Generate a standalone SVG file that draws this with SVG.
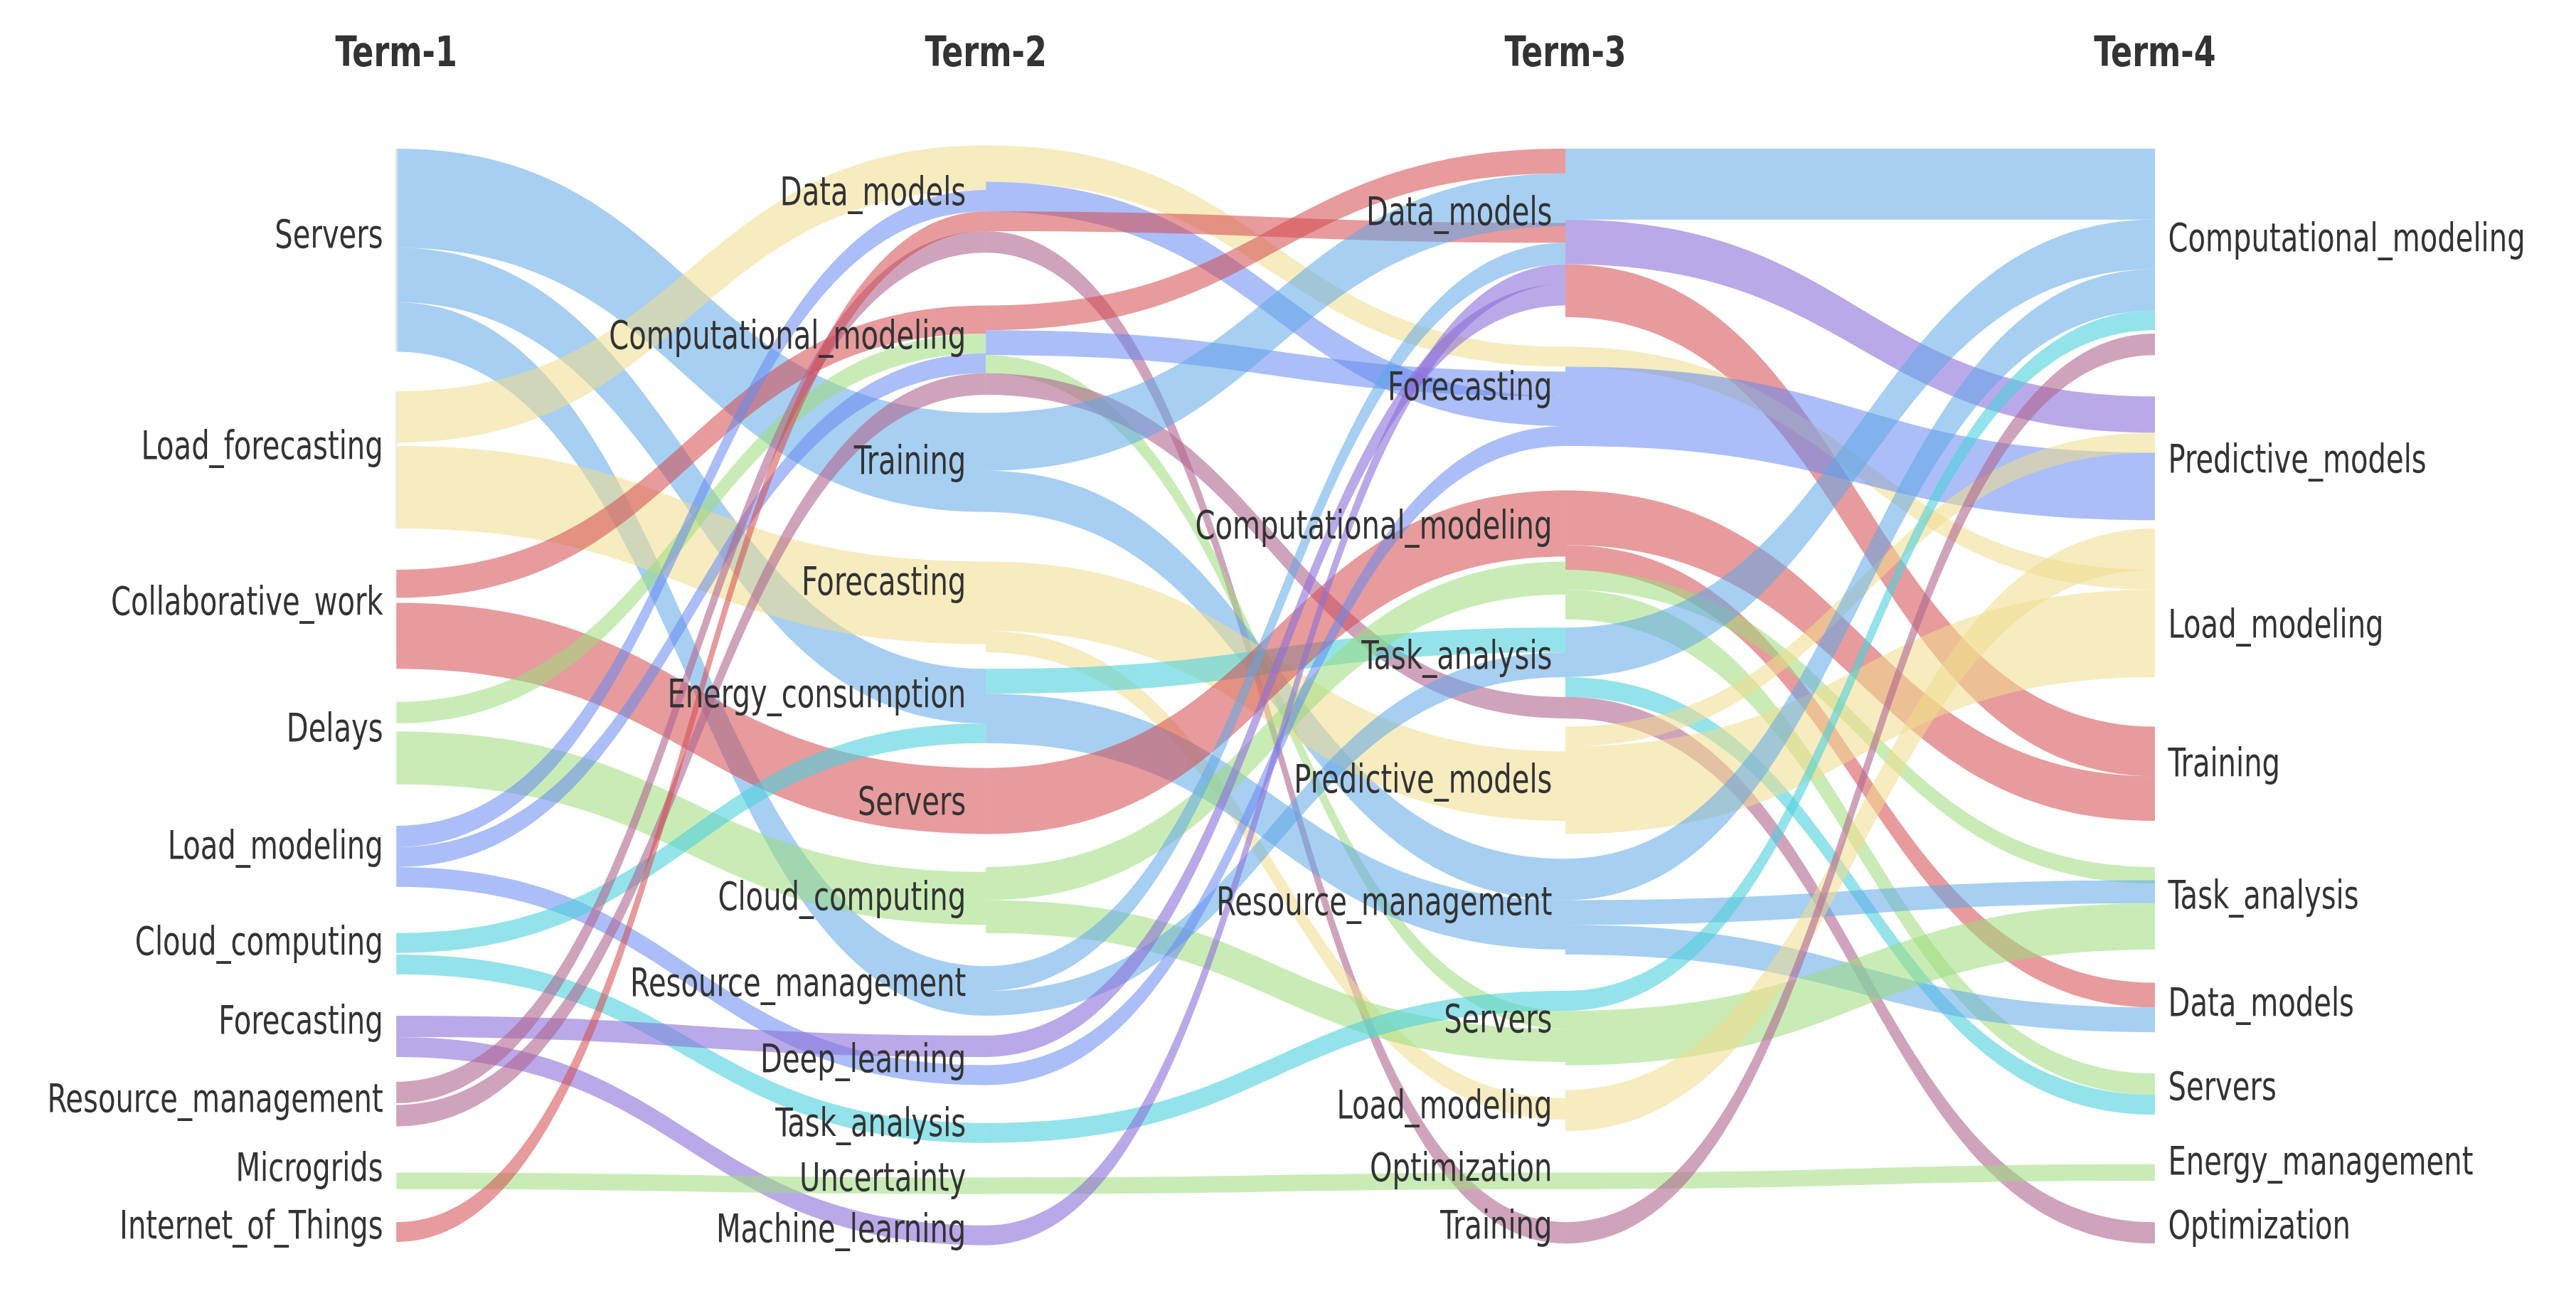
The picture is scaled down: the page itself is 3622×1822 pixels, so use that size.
<svg xmlns="http://www.w3.org/2000/svg" width="3622" height="1822" viewBox="0 0 3622 1822">
<style>
.b{fill:#5fa8e8;opacity:.55}.y{fill:#f0dc8c;opacity:.55}.r{fill:#d4494d;opacity:.55}.g{fill:#9ddc7c;opacity:.55}.v{fill:#6688f0;opacity:.55}.c{fill:#4fd0dc;opacity:.6}.p{fill:#8c70d8;opacity:.6}.m{fill:#b0668f;opacity:.6}
text{font-family:"DejaVu Sans Condensed","DejaVu Sans",sans-serif;font-size:24px;fill:#333}
.e{text-anchor:end}.t{font-weight:bold;text-anchor:middle;font-size:25px}
.n{fill:#e8e8e8;opacity:.6}
</style>
<rect width="3622" height="1822" fill="#fff"/>
<g transform="scale(2.3218)">
<g id="connectors">
<path class="b" d="M240,90C418,90 418,250 597,250L597,310C418,310 418,150 240,150Z"/>
<path class="b" d="M240,150C418,150 418,405 597,405L597,438C418,438 418,183 240,183Z"/>
<path class="b" d="M240,183C418,183 418,585 597,585L597,615C418,615 418,213 240,213Z"/>
<path class="y" d="M240,237C418,237 418,88 597,88L597,115C418,115 418,268 240,268Z"/>
<path class="y" d="M240,270C418,270 418,340 597,340L597,390C418,390 418,320 240,320Z"/>
<path class="r" d="M240,345C418,345 418,185 597,185L597,202C418,202 418,362 240,362Z"/>
<path class="r" d="M240,365C418,365 418,465 597,465L597,505C418,505 418,405 240,405Z"/>
<path class="g" d="M240,425C418,425 418,202 597,202L597,214C418,214 418,438 240,438Z"/>
<path class="g" d="M240,443C418,443 418,528 597,528L597,560C418,560 418,475 240,475Z"/>
<path class="v" d="M240,500C418,500 418,115 597,115L597,128C418,128 418,513 240,513Z"/>
<path class="v" d="M240,513C418,513 418,214 597,214L597,226C418,226 418,525 240,525Z"/>
<path class="v" d="M240,525C418,525 418,645 597,645L597,657C418,657 418,537 240,537Z"/>
<path class="c" d="M240,565C418,565 418,438 597,438L597,450C418,450 418,577 240,577Z"/>
<path class="c" d="M240,578C418,578 418,680 597,680L597,692C418,692 418,590 240,590Z"/>
<path class="p" d="M240,615C418,615 418,627 597,627L597,640C418,640 418,628 240,628Z"/>
<path class="p" d="M240,628C418,628 418,742 597,742L597,754C418,754 418,640 240,640Z"/>
<path class="m" d="M240,655C418,655 418,140 597,140L597,153C418,153 418,668 240,668Z"/>
<path class="m" d="M240,669C418,669 418,226 597,226L597,239C418,239 418,682 240,682Z"/>
<path class="g" d="M240,710C418,710 418,713 597,713L597,723C418,723 418,720 240,720Z"/>
<path class="r" d="M240,740C418,740 418,128 597,128L597,140C418,140 418,752 240,752Z"/>

<path class="y" d="M597,88C772,88 772,210 948,210L948,222C772,222 772,110 597,110Z"/>
<path class="v" d="M597,110C772,110 772,240 948,240L948,258C772,258 772,128 597,128Z"/>
<path class="r" d="M597,128C772,128 772,135 948,135L948,147C772,147 772,140 597,140Z"/>
<path class="m" d="M597,140C772,140 772,740 948,740L948,753C772,753 772,153 597,153Z"/>
<path class="r" d="M597,185C772,185 772,90 948,90L948,105C772,105 772,200 597,200Z"/>
<path class="v" d="M597,200C772,200 772,225 948,225L948,240C772,240 772,215 597,215Z"/>
<path class="g" d="M597,215C772,215 772,612 948,612L948,623C772,623 772,226 597,226Z"/>
<path class="m" d="M597,226C772,226 772,422 948,422L948,435C772,435 772,239 597,239Z"/>
<path class="b" d="M597,250C772,250 772,105 948,105L948,137C772,137 772,285 597,285Z"/>
<path class="b" d="M597,285C772,285 772,520 948,520L948,545C772,545 772,310 597,310Z"/>
<path class="y" d="M597,340C772,340 772,455 948,455L948,497C772,497 772,382 597,382Z"/>
<path class="y" d="M597,382C772,382 772,665 948,665L948,678C772,678 772,395 597,395Z"/>
<path class="c" d="M597,405C772,405 772,380 948,380L948,395C772,395 772,420 597,420Z"/>
<path class="b" d="M597,420C772,420 772,545 948,545L948,575C772,575 772,450 597,450Z"/>
<path class="r" d="M597,465C772,465 772,297 948,297L948,337C772,337 772,505 597,505Z"/>
<path class="g" d="M597,525C772,525 772,340 948,340L948,360C772,360 772,545 597,545Z"/>
<path class="g" d="M597,545C772,545 772,623 948,623L948,643C772,643 772,565 597,565Z"/>
<path class="b" d="M597,585C772,585 772,147 948,147L948,160C772,160 772,600 597,600Z"/>
<path class="b" d="M597,600C772,600 772,395 948,395L948,410C772,410 772,615 597,615Z"/>
<path class="p" d="M597,627C772,627 772,172 948,172L948,185C772,185 772,640 597,640Z"/>
<path class="v" d="M597,645C772,645 772,258 948,258L948,270C772,270 772,657 597,657Z"/>
<path class="c" d="M597,680C772,680 772,600 948,600L948,612C772,612 772,692 597,692Z"/>
<path class="g" d="M597,713C772,713 772,710 948,710L948,720C772,720 772,723 597,723Z"/>
<path class="p" d="M597,742C772,742 772,160 948,160L948,172C772,172 772,754 597,754Z"/>

<path class="b" d="M948,90C1126,90 1126,90 1305,90L1305,133C1126,133 1126,133 948,133Z"/>
<path class="p" d="M948,133C1126,133 1126,240 1305,240L1305,262C1126,262 1126,160 948,160Z"/>
<path class="r" d="M948,160C1126,160 1126,440 1305,440L1305,470C1126,470 1126,192 948,192Z"/>
<path class="y" d="M948,210C1126,210 1126,345 1305,345L1305,357C1126,357 1126,222 948,222Z"/>
<path class="v" d="M948,222C1126,222 1126,274 1305,274L1305,315C1126,315 1126,270 948,270Z"/>
<path class="r" d="M948,297C1126,297 1126,470 1305,470L1305,497C1126,497 1126,330 948,330Z"/>
<path class="r" d="M948,330C1126,330 1126,595 1305,595L1305,610C1126,610 1126,345 948,345Z"/>
<path class="g" d="M948,345C1126,345 1126,525 1305,525L1305,535C1126,535 1126,357 948,357Z"/>
<path class="g" d="M948,357C1126,357 1126,650 1305,650L1305,663C1126,663 1126,375 948,375Z"/>
<path class="b" d="M948,380C1126,380 1126,133 1305,133L1305,163C1126,163 1126,410 948,410Z"/>
<path class="c" d="M948,410C1126,410 1126,663 1305,663L1305,675C1126,675 1126,422 948,422Z"/>
<path class="m" d="M948,422C1126,422 1126,740 1305,740L1305,753C1126,753 1126,435 948,435Z"/>
<path class="y" d="M948,440C1126,440 1126,262 1305,262L1305,274C1126,274 1126,452 948,452Z"/>
<path class="y" d="M948,452C1126,452 1126,357 1305,357L1305,410C1126,410 1126,505 948,505Z"/>
<path class="b" d="M948,520C1126,520 1126,163 1305,163L1305,188C1126,188 1126,545 948,545Z"/>
<path class="b" d="M948,545C1126,545 1126,533 1305,533L1305,547C1126,547 1126,560 948,560Z"/>
<path class="b" d="M948,560C1126,560 1126,610 1305,610L1305,625C1126,625 1126,578 948,578Z"/>
<path class="c" d="M948,600C1126,600 1126,188 1305,188L1305,200C1126,200 1126,612 948,612Z"/>
<path class="g" d="M948,612C1126,612 1126,547 1305,547L1305,575C1126,575 1126,645 948,645Z"/>
<path class="y" d="M948,660C1126,660 1126,320 1305,320L1305,345C1126,345 1126,685 948,685Z"/>
<path class="g" d="M948,710C1126,710 1126,705 1305,705L1305,715C1126,715 1126,720 948,720Z"/>
<path class="m" d="M948,740C1126,740 1126,202 1305,202L1305,215C1126,215 1126,753 948,753Z"/>
</g>

<text class="t" transform="translate(240,40) scale(.85,1)">Term-1</text>
<text class="t" transform="translate(597,40) scale(.85,1)">Term-2</text>
<text class="t" transform="translate(948,40) scale(.85,1)">Term-3</text>
<text class="t" transform="translate(1305,40) scale(.85,1)">Term-4</text>

<g id="t1-servers"><rect class="n" x="239" y="90" width="2" height="123"/><text class="e" transform="translate(232,150) scale(.8,1)">Servers</text></g>
<g id="t1-load-forecasting"><rect class="n" x="239" y="237" width="2" height="83"/><text class="e" transform="translate(232,278) scale(.8,1)">Load_forecasting</text></g>
<g id="t1-collaborative-work"><text class="e" transform="translate(232,372) scale(.8,1)">Collaborative_work</text></g>
<g id="t1-delays"><text class="e" transform="translate(232,449) scale(.8,1)">Delays</text></g>
<g id="t1-load-modeling"><text class="e" transform="translate(232,520) scale(.8,1)">Load_modeling</text></g>
<g id="t1-cloud-computing"><text class="e" transform="translate(232,578) scale(.8,1)">Cloud_computing</text></g>
<g id="t1-forecasting"><text class="e" transform="translate(232,626) scale(.8,1)">Forecasting</text></g>
<g id="t1-resource-management"><text class="e" transform="translate(232,673) scale(.8,1)">Resource_management</text></g>
<g id="t1-microgrids"><text class="e" transform="translate(232,715) scale(.8,1)">Microgrids</text></g>
<g id="t1-iot"><text class="e" transform="translate(232,750) scale(.8,1)">Internet_of_Things</text></g>

<g id="t2-data-models"><text class="e" transform="translate(585,124) scale(.8,1)">Data_models</text></g>
<g id="t2-computational-modeling"><text class="e" transform="translate(585,211) scale(.8,1)">Computational_modeling</text></g>
<g id="t2-training"><text class="e" transform="translate(585,287) scale(.8,1)">Training</text></g>
<g id="t2-forecasting"><text class="e" transform="translate(585,360) scale(.8,1)">Forecasting</text></g>
<g id="t2-energy-consumption"><text class="e" transform="translate(585,428) scale(.8,1)">Energy_consumption</text></g>
<g id="t2-servers"><text class="e" transform="translate(585,493) scale(.8,1)">Servers</text></g>
<g id="t2-cloud-computing"><text class="e" transform="translate(585,551) scale(.8,1)">Cloud_computing</text></g>
<g id="t2-resource-management"><text class="e" transform="translate(585,603) scale(.8,1)">Resource_management</text></g>
<g id="t2-deep-learning"><text class="e" transform="translate(585,649) scale(.8,1)">Deep_learning</text></g>
<g id="t2-task-analysis"><text class="e" transform="translate(585,688) scale(.8,1)">Task_analysis</text></g>
<g id="t2-uncertainty"><text class="e" transform="translate(585,721) scale(.8,1)">Uncertainty</text></g>
<g id="t2-machine-learning"><text class="e" transform="translate(585,752) scale(.8,1)">Machine_learning</text></g>

<g id="t3-data-models"><text class="e" transform="translate(940,136) scale(.8,1)">Data_models</text></g>
<g id="t3-forecasting"><text class="e" transform="translate(940,242) scale(.8,1)">Forecasting</text></g>
<g id="t3-computational-modeling"><text class="e" transform="translate(940,326) scale(.8,1)">Computational_modeling</text></g>
<g id="t3-task-analysis"><text class="e" transform="translate(940,405) scale(.8,1)">Task_analysis</text></g>
<g id="t3-predictive-models"><text class="e" transform="translate(940,480) scale(.8,1)">Predictive_models</text></g>
<g id="t3-resource-management"><text class="e" transform="translate(940,554) scale(.8,1)">Resource_management</text></g>
<g id="t3-servers"><text class="e" transform="translate(940,625) scale(.8,1)">Servers</text></g>
<g id="t3-load-modeling"><text class="e" transform="translate(940,677) scale(.8,1)">Load_modeling</text></g>
<g id="t3-optimization"><text class="e" transform="translate(940,715) scale(.8,1)">Optimization</text></g>
<g id="t3-training"><text class="e" transform="translate(940,750) scale(.8,1)">Training</text></g>

<g id="t4-computational-modeling"><text transform="translate(1313,152) scale(.8,1)">Computational_modeling</text></g>
<g id="t4-predictive-models"><text transform="translate(1313,286) scale(.8,1)">Predictive_models</text></g>
<g id="t4-load-modeling"><text transform="translate(1313,386) scale(.8,1)">Load_modeling</text></g>
<g id="t4-training"><text transform="translate(1313,470) scale(.8,1)">Training</text></g>
<g id="t4-task-analysis"><text transform="translate(1313,550) scale(.8,1)">Task_analysis</text></g>
<g id="t4-data-models"><text transform="translate(1313,615) scale(.8,1)">Data_models</text></g>
<g id="t4-servers"><text transform="translate(1313,666) scale(.8,1)">Servers</text></g>
<g id="t4-energy-management"><text transform="translate(1313,711) scale(.8,1)">Energy_management</text></g>
<g id="t4-optimization"><text transform="translate(1313,750) scale(.8,1)">Optimization</text></g>
</g>
</svg>
